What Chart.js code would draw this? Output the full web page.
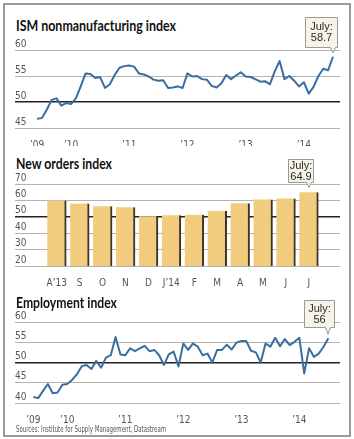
<!DOCTYPE html>
<html>
<head>
<meta charset="utf-8">
<script src="https://cdn.jsdelivr.net/npm/chart.js@4.4.1/dist/chart.umd.min.js"></script>
<style>
  body { margin: 0; background: #fff; width: 354px; height: 439px; overflow: hidden; }
  #frame { position: absolute; left: 3px; top: 3px; width: 344px; height: 430px; border: 2px solid #9a9a9a; }
  .title { position: absolute; left: 16px; font: bold 15px Lato, sans-serif; line-height: 15px; color: #111; white-space: nowrap; transform-origin: 0 0; }
  .source { position: absolute; left: 16px; top: 426px; font: 8px "DejaVu Sans Condensed", "Liberation Sans", sans-serif; line-height: 8px; color: #555; white-space: nowrap; transform-origin: 0 0; }
  canvas { position: absolute; left: 0; }
</style>
</head>
<body>
<div id="frame"></div>

<div class="title" id="t1" style="top:18px" data-w="160">ISM nonmanufacturing index</div>
<canvas id="ismChart" width="354" height="146" style="top:0px"></canvas>

<div class="title" id="t2" style="top:156px" data-w="96">New orders index</div>
<canvas id="ordersChart" width="354" height="146" style="top:142px"></canvas>

<div class="title" id="t3" style="top:295px" data-w="101">Employment index</div>
<canvas id="empChart" width="354" height="138" style="top:286px"></canvas>

<div class="source" data-w="150">Sources: Institute for Supply Management, Datastream</div>

<script>
// Monthly series, June 2009 .. July 2014
const ismValues = [
    46.8, 46.9, 48.5, 50.4, 50.7, 49.3, 49.8, 49.6, 50.7, 53.0,
    55.5, 55.4, 54.6, 54.8, 52.7, 53.4, 55.2, 56.6, 56.9, 57.0,
    56.8, 55.5, 55.3, 54.9, 54.3, 54.1, 54.2, 52.7, 52.8, 53.0,
    52.7, 55.5, 54.9, 55.0, 54.4, 54.3, 53.1, 52.8, 53.6, 55.2,
    54.4, 55.1, 55.7, 54.9, 54.8, 54.4, 53.9, 54.0, 53.4, 55.9,
    57.9, 54.4, 55.0, 54.1, 53.0, 53.8, 51.6, 52.9, 55.0, 56.4,
    56.1, 58.7
];
const employmentValues = [
    41.5, 41.2, 43.0, 44.7, 42.4, 42.6, 44.5, 44.7, 45.7, 47.1,
    49.1, 49.4, 48.4, 50.4, 48.7, 51.2, 51.8, 56.3, 52.0, 51.8,
    53.5, 52.8, 53.5, 54.1, 52.8, 53.1, 51.8, 49.4, 52.0, 52.7,
    49.0, 54.7, 53.1, 54.7, 53.9, 51.8, 52.2, 50.0, 53.1, 53.1,
    54.4, 53.2, 54.9, 55.3, 55.3, 52.9, 52.5, 50.0, 54.7, 53.9,
    56.1, 54.0, 55.8, 54.3, 55.1, 56.1, 47.3, 53.5, 51.4, 52.2,
    53.9, 56.0
];
// year labels sit at month index (0 = Jun '09)
const yearTickIdx = [0, 7, 19, 31, 43, 55];
const yearLabels = ["’09", "’10", "’11", "’12", "’13", "’14"];

// New orders, Aug 2013 .. Jul 2014
const orderMonths = ["A’13", "S", "O", "N", "D", "J’14", "F", "M", "A", "M", "J", "J"];
const orderValues = [60.0, 58.1, 56.4, 55.8, 50.4, 51.0, 51.2, 53.5, 58.3, 60.6, 61.2, 64.9];

// Styles
const LINE_COLOR = '#3b6d9f';
const BAR_COLOR = '#f2cc7e';
const BAR_SHADOW = '#3d3428';
const GRID_COLOR = '#b3b3b3';
const TICK_FONT = { family: '"DejaVu Sans Condensed", "Liberation Sans", sans-serif', size: 10 };
const TICK_COLOR = '#555';

// Callout box ("July: xx") anchored on the last mark
const calloutPlugin = {
    id: 'callout',
    afterDatasetsDraw(chart, args, opts) {
        const meta = chart.getDatasetMeta(0);
        const el = meta.data[meta.data.length - 1];
        const ctx = chart.ctx;
        const px = Math.round(el.x), py = el.y;
        const right = px + opts.dx + 0.5;
        const bottom = Math.round(py - opts.gap) + 0.5;
        const left = right - opts.w;
        const top = bottom - opts.h;

        ctx.save();
        ctx.beginPath();
        ctx.moveTo(left, top);
        ctx.lineTo(right, top);
        ctx.lineTo(right, bottom);
        ctx.lineTo(px + 2.5, bottom);
        ctx.lineTo(px, py - opts.tip);
        ctx.lineTo(px - 2.5, bottom);
        ctx.lineTo(left, bottom);
        ctx.closePath();
        ctx.fillStyle = '#f6f4e8';
        ctx.fill();
        ctx.strokeStyle = '#999';
        ctx.lineWidth = 1;
        ctx.stroke();

        ctx.fillStyle = '#2a2a2a';
        ctx.font = '11px "Liberation Sans", Arial, sans-serif';
        ctx.textAlign = 'center';
        ctx.textBaseline = 'middle';
        const cx = (left + right) / 2, cy = (top + bottom) / 2;
        ctx.fillText(opts.lines[0], cx, cy - 5.5);
        ctx.fillText(opts.lines[1], cx, cy + 5.5);
        ctx.restore();
    }
};

// the 50 line is drawn dark
function gridColor(ctx) {
    return ctx.tick.value === 50 ? '#222' : GRID_COLOR;
}
function gridWidth(ctx) {
    return ctx.tick.value === 50 ? 1.5 : 1;
}

function yScale(min, max, step) {
    return {
        min: min,
        max: max,
        afterFit: s => { s.width = 0; },
        border: { display: false },
        grid: { drawTicks: false, color: gridColor, lineWidth: gridWidth },
        ticks: {
            stepSize: step, mirror: true, padding: 0, labelOffset: -6,
            autoSkip: false, color: TICK_COLOR, font: TICK_FONT
        }
    };
}

function xScale(min, max, tickIdx, labels, axisHeight) {
    return {
        type: 'linear',
        min: min,
        max: max,
        afterFit: s => { s.height = axisHeight; },
        afterBuildTicks: s => { s.ticks = tickIdx.map(v => ({ value: v })); },
        border: { display: false },
        grid: { display: false },
        ticks: {
            autoSkip: false, maxRotation: 0, padding: 3, color: TICK_COLOR, font: TICK_FONT,
            callback: v => labels[tickIdx.indexOf(v)]
        }
    };
}

function makeLineChart(id, values, area, yMin, yMax, xMin, xMax, callout) {
    const canvas = document.getElementById(id);
    return new Chart(canvas, {
        type: 'line',
        data: {
            datasets: [{
                data: values.map((v, i) => ({ x: i, y: v })),
                borderColor: LINE_COLOR,
                borderWidth: 2,
                pointRadius: 0,
                tension: 0,
                borderJoinStyle: 'round',
                clip: false
            }]
        },
        options: {
            responsive: false,
            animation: false,
            layout: { padding: { top: area.top, left: 15, right: 354 - 340, bottom: 0 } },
            plugins: { legend: { display: false }, tooltip: { enabled: false }, callout: callout },
            scales: {
                x: xScale(xMin, xMax, yearTickIdx, yearLabels, canvas.height - area.bottom),
                y: yScale(yMin, yMax, 5)
            }
        },
        plugins: [calloutPlugin]
    });
}

// ISM nonmanufacturing
makeLineChart('ismChart', ismValues, { top: 50, bottom: 128 }, 45, 60, -4.55, 62.45,
    { lines: ['July:', '58.7'], dx: 4, gap: 10, w: 32, h: 30, tip: 4 });

// Employment
makeLineChart('empChart', employmentValues, { top: 36, bottom: 117 }, 40, 60, -3.8, 63.4,
    { lines: ['July:', '56'], dx: 6, gap: 11, w: 30, h: 27, tip: 4 });

// New orders bars
const ordersCanvas = document.getElementById('ordersChart');
const barIdx = orderValues.map((v, i) => i);
new Chart(ordersCanvas, {
    type: 'bar',
    data: {
        datasets: [{
            data: orderValues.map((v, i) => ({ x: i, y: v })),
            backgroundColor: BAR_COLOR,
            borderColor: BAR_SHADOW,
            borderWidth: { left: 0, top: 0, bottom: 0, right: 2 },
            borderSkipped: false,
            barThickness: 19
        }]
    },
    options: {
        responsive: false,
        animation: false,
        layout: { padding: { top: 42, left: 15, right: 354 - 340, bottom: 0 } },
        plugins: {
            legend: { display: false }, tooltip: { enabled: false },
            callout: { lines: ['July:', '64.9'], dx: 4, gap: 10, w: 25, h: 23, tip: 5 }
        },
        scales: {
            x: xScale(-1.23, 11.77, barIdx, orderMonths, ordersCanvas.height - 124),
            y: yScale(20, 70, 10)
        }
    },
    plugins: [calloutPlugin]
});

// squeeze titles to the widths they have in the print
document.querySelectorAll('.title, .source').forEach(el => {
    const w = el.getBoundingClientRect().width;
    el.style.transform = `scaleX(${el.dataset.w / w})`;
});
</script>
</body>
</html>
